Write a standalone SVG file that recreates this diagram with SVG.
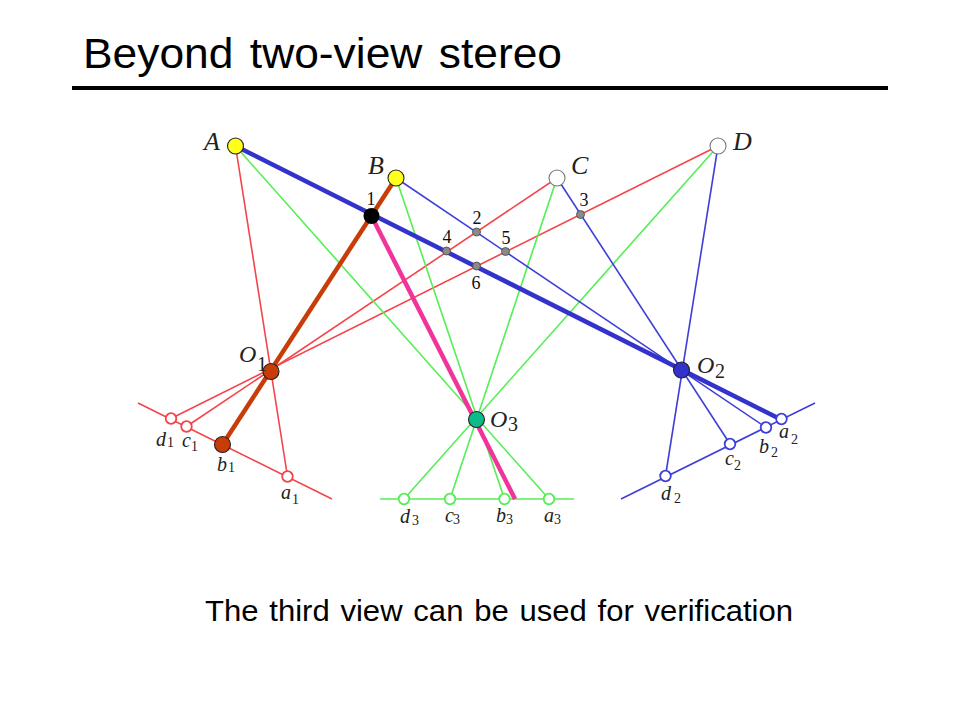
<svg xmlns="http://www.w3.org/2000/svg" width="960" height="720" viewBox="0 0 960 720">
<style>
.sans{font-family:"Liberation Sans",Arial,sans-serif;fill:#000}
.it{font-family:"Liberation Serif","Times New Roman",serif;font-style:italic;fill:#222}
.sub{font-family:"Liberation Serif","Times New Roman",serif;fill:#222}
.num{font-family:"Liberation Serif","Times New Roman",serif;font-size:18px;fill:#111;text-anchor:middle}
.l{fill:none;stroke-width:1.6}
.r{stroke:#f4444a}.g{stroke:#55ee55}.b{stroke:#3f3fd8}
.img{fill:#fff;stroke-width:1.8}
.ip{fill:#8a8a8a;stroke:#444;stroke-width:.8}
.pt{stroke:#222;stroke-width:1.1}
</style>
<rect width="960" height="720" fill="#fff"/>
<text class="sans" x="83" y="68" font-size="43" word-spacing="4" textLength="479" lengthAdjust="spacingAndGlyphs">Beyond two-view stereo</text>
<line x1="72" y1="88" x2="888" y2="88" stroke="#000" stroke-width="4"/>
<text class="sans" x="205" y="621" font-size="29" word-spacing="2" textLength="588" lengthAdjust="spacingAndGlyphs">The third view can be used for verification</text>
<g id="connectors">
<g class="l r">
<line x1="138" y1="403" x2="332" y2="499"/>
<line x1="235.500" y1="146" x2="287.500" y2="476.500"/>
<line x1="557" y1="178" x2="186.500" y2="426.500"/>
<line x1="718" y1="146" x2="171" y2="418.500"/>
</g>
<g class="l g">
<line x1="380" y1="499" x2="574" y2="499"/>
<line x1="235.500" y1="146" x2="549" y2="499"/>
<line x1="396" y1="178" x2="504.500" y2="499"/>
<line x1="557" y1="178" x2="450" y2="499"/>
<line x1="718" y1="146" x2="404" y2="499"/>
</g>
<g class="l b">
<line x1="621" y1="499" x2="815" y2="403"/>
<line x1="396" y1="178" x2="766" y2="427.500"/>
<line x1="557" y1="178" x2="730" y2="444"/>
<line x1="718" y1="146" x2="665.500" y2="476"/>
</g>
<line x1="235.500" y1="146" x2="778" y2="418" stroke="#3333cc" stroke-width="4.500"/>
<line x1="396" y1="178" x2="222.500" y2="444.500" stroke="#c83c08" stroke-width="4.500"/>
<line x1="371.500" y1="216" x2="515" y2="499" stroke="#f0349a" stroke-width="4.500"/>
</g>
<g id="image-points-1" stroke="#f4444a">
<circle class="img" cx="171" cy="418.500" r="5.300"/>
<circle class="img" cx="186.500" cy="426.500" r="5.300"/>
<circle class="img" cx="287.500" cy="476.500" r="5.300"/>
</g>
<g id="image-points-3" stroke="#55ee55">
<circle class="img" cx="404" cy="499" r="5.300"/>
<circle class="img" cx="450" cy="499" r="5.300"/>
<circle class="img" cx="504.500" cy="499" r="5.300"/>
<circle class="img" cx="549" cy="499" r="5.300"/>
</g>
<g id="image-points-2" stroke="#3f3fd8">
<circle class="img" cx="781.500" cy="419" r="5.300"/>
<circle class="img" cx="766" cy="427.500" r="5.300"/>
<circle class="img" cx="730" cy="444" r="5.300"/>
<circle class="img" cx="665.500" cy="476" r="5.300"/>
</g>
<g id="node-A"><circle class="pt" cx="235.500" cy="146" r="8" fill="#ffff1a"/><text class="it" x="204" y="150" font-size="26">A</text></g>
<g id="node-B"><circle class="pt" cx="396" cy="178" r="8" fill="#ffff1a"/><text class="it" x="368" y="174" font-size="26">B</text></g>
<g id="node-C"><circle cx="557" cy="178" r="8" fill="#fff" stroke="#777" stroke-width="1.100"/><text class="it" x="571" y="174" font-size="26">C</text></g>
<g id="node-D"><circle cx="718" cy="146" r="8" fill="#fff" stroke="#777" stroke-width="1.100"/><text class="it" x="733" y="150" font-size="26">D</text></g>
<g id="node-1"><circle cx="371.500" cy="216" r="8" fill="#000"/><text class="num" x="371" y="205">1</text></g>
<g id="node-2"><circle class="ip" cx="476.500" cy="232" r="4"/><text class="num" x="477" y="224">2</text></g>
<g id="node-3"><circle class="ip" cx="580.500" cy="214.500" r="4"/><text class="num" x="584" y="206">3</text></g>
<g id="node-4"><circle class="ip" cx="446.500" cy="251" r="4"/><text class="num" x="447" y="243">4</text></g>
<g id="node-5"><circle class="ip" cx="505.500" cy="251.500" r="4"/><text class="num" x="506" y="244">5</text></g>
<g id="node-6"><circle class="ip" cx="476.500" cy="266" r="4"/><text class="num" x="476" y="289">6</text></g>
<g id="node-O1"><circle class="pt" cx="271" cy="371.500" r="8" fill="#c83c08"/><text class="it" x="239" y="362" font-size="24">O</text><text class="sub" x="257" y="371" font-size="20">1</text></g>
<g id="node-O2"><circle class="pt" cx="681.500" cy="370" r="8" fill="#3333cc"/><text class="it" x="697" y="373" font-size="24">O</text><text class="sub" x="715" y="378" font-size="20">2</text></g>
<g id="node-O3"><circle class="pt" cx="476.500" cy="419.500" r="8" fill="#0dbb88"/><text class="it" x="490" y="427" font-size="24">O</text><text class="sub" x="508" y="431" font-size="20">3</text></g>
<g id="node-b1"><circle class="pt" cx="222.500" cy="444.500" r="8" fill="#c83c08"/></g>
<g id="labels" font-size="20">
<text class="it" x="156" y="446">d</text><text class="sub" x="167" y="447" font-size="14">1</text>
<text class="it" x="182" y="447">c</text><text class="sub" x="191" y="451" font-size="14">1</text>
<text class="it" x="217" y="471">b</text><text class="sub" x="228" y="472" font-size="14">1</text>
<text class="it" x="281" y="499">a</text><text class="sub" x="292" y="504" font-size="14">1</text>
<text class="it" x="400" y="523">d</text><text class="sub" x="412" y="525" font-size="14">3</text>
<text class="it" x="445" y="522">c</text><text class="sub" x="453" y="524" font-size="14">3</text>
<text class="it" x="496" y="522">b</text><text class="sub" x="506" y="524" font-size="14">3</text>
<text class="it" x="544" y="522">a</text><text class="sub" x="554" y="524" font-size="14">3</text>
<text class="it" x="779" y="438">a</text><text class="sub" x="791" y="444" font-size="14">2</text>
<text class="it" x="759" y="453">b</text><text class="sub" x="771" y="457" font-size="14">2</text>
<text class="it" x="725" y="465">c</text><text class="sub" x="734" y="470" font-size="14">2</text>
<text class="it" x="661" y="500">d</text><text class="sub" x="674" y="503" font-size="14">2</text>
</g>
</svg>
